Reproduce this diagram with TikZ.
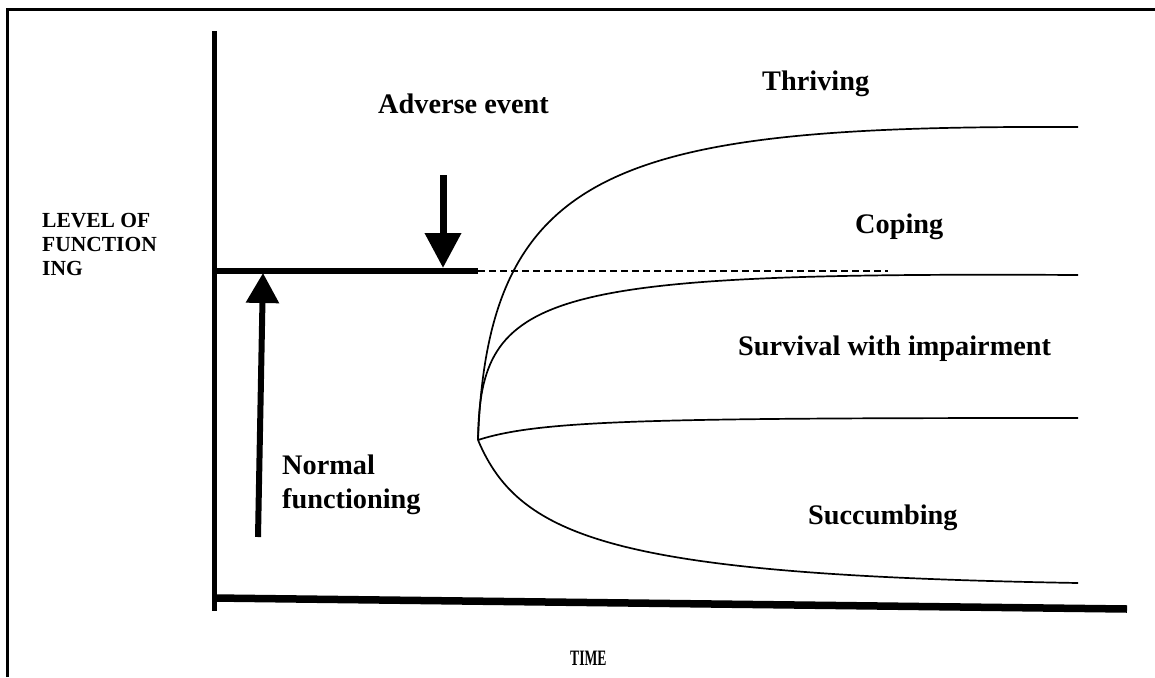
\documentclass[tikz,border=0pt]{standalone}
\usepackage{fontspec}
\setmainfont{Liberation Serif}
\usetikzlibrary{arrows.meta}
\begin{document}
\begin{tikzpicture}[x=1pt,y=-1pt,
  lbl/.style={font=\fontsize{28.3}{34}\selectfont\bfseries, inner sep=0pt, anchor=base west},
  axlbl/.style={font=\fontsize{21.5}{24}\selectfont\bfseries, inner sep=0pt, align=left, anchor=base west},
  curve/.style={line width=1.7pt},
  axis/.style={line width=5pt},
  frame/.style={line width=3pt},
  bigarrow/.style={line width=7pt, -{Triangle[length=35pt,width=35pt]}}]
\useasboundingbox (0,0) rectangle (1155,677);
% frame
\coordinate (fL) at (7,677);
\coordinate (fC) at (7,10);
\coordinate (fR) at (1155,10);
\draw[frame] (fL) -- (fC) -- (fR);
% axes
\coordinate (yTop) at (214.5,31);
\coordinate (yBot) at (214.5,611);
\coordinate (xL) at (214,598);
\coordinate (xR) at (1127,609);
\draw[axis] (yTop) -- (yBot);
\draw[line width=7.5pt] (xL) -- (xR);
% normal level
\coordinate (lvL) at (214,271);
\coordinate (lvR) at (478,271);
\coordinate (dsR) at (888,271);
\draw[line width=5.5pt] (lvL) -- (lvR);
\draw[line width=1.3pt, dash pattern=on 7pt off 4pt] (lvR) -- (dsR);
% arrows
\coordinate (aeTop) at (443,175);
\coordinate (aeTip) at (443,268);
\draw[bigarrow] (aeTop) -- (aeTip);
\coordinate (nfBot) at (258,537);
\coordinate (nfTip) at (263,273);
\draw[line width=6pt, -{Triangle[length=30pt,width=32pt]}] (nfBot) -- (nfTip);
% curves
\coordinate (o) at (478,440);
\coordinate (thr) at (1078,127);
\coordinate (cop) at (1078,275);
\coordinate (sur) at (1078,418);
\coordinate (suc) at (1078,583);
\draw[curve] (o) .. controls (488,165) and (620,125) .. (thr);
\draw[curve] (o) .. controls (480,292) and (540,272) .. (cop);
\draw[curve] (o) .. controls (540,420) and (650,418) .. (sur);
\draw[curve] (o) .. controls (520,540) and (620,575) .. (suc);
% labels
\node[lbl] (adv) at (378,113) {Adverse event};
\node[lbl] (thrl) at (762,90) {Thriving};
\node[lbl] (copl) at (855,233) {Coping};
\node[lbl] (surl) at (738,355) {Survival with impairment};
\node[lbl] (sucl) at (808,524) {Succumbing};
\node[lbl, align=left] (nf) at (282,508) {Normal\\functioning};
\node[axlbl] (lof) at (42,275) {LEVEL OF\\FUNCTION\\ING};
\node[inner sep=0pt, anchor=base west, font=\fontsize{22}{26}\selectfont\bfseries] (time) at (570,665) {\scalebox{0.62}[1]{TIME}};
\end{tikzpicture}
\end{document}
